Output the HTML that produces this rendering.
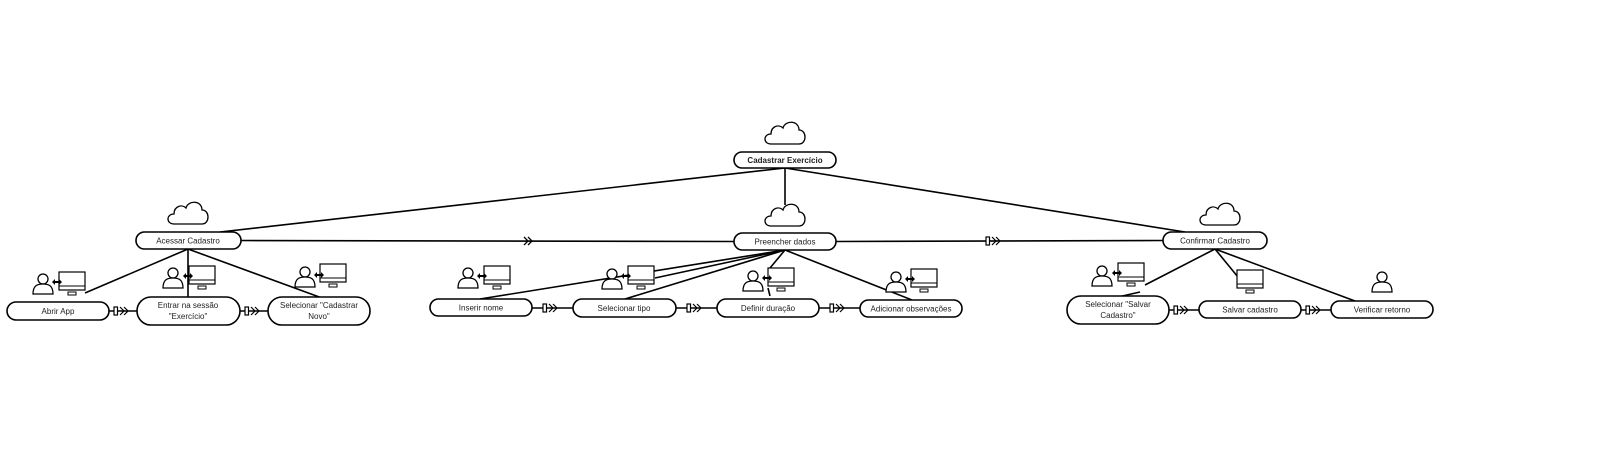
<!DOCTYPE html>
<html><head><meta charset="utf-8"><style>
html,body{margin:0;padding:0;background:#fff;}
svg{display:block;}
text{font-family:"Liberation Sans",sans-serif;font-size:8px;fill:#222;text-anchor:middle;}
</style></head><body>
<svg width="1600" height="454" viewBox="0 0 1600 454" xmlns="http://www.w3.org/2000/svg">
<defs>
<g id="cloud"><path d="M-14,12 C-22,12 -22,2 -14,2 C-14,-6 -6,-8 -2,-4 C0,-12 14,-12 14,-2 C22,-2 22,12 14,12 Z" fill="#fff" stroke="#000" stroke-width="1.3"/></g>
<g id="person"><circle cx="0" cy="-6" r="5" fill="#fff" stroke="#000" stroke-width="1.3"/><path d="M-10,9 C-10,0 -5,-1 0,-1 C5,-1 10,0 10,9 Z" fill="#fff" stroke="#000" stroke-width="1.3"/></g>
<g id="mon"><rect x="-13" y="-10" width="26" height="18" fill="#fff" stroke="#000" stroke-width="1.2"/><line x1="-13" y1="4" x2="13" y2="4" stroke="#000"/><rect x="-4" y="10" width="8" height="3" fill="#fff" stroke="#000"/></g>
<g id="arr"><path d="M-5,0 L-2,-3 L-2,-1 L2,-1 L2,-3 L5,0 L2,3 L2,1 L-2,1 L-2,3 Z" fill="#000"/></g>
<g id="conn"><rect x="0" y="-4" width="3.5" height="8" fill="#fff" stroke="#000" stroke-width="1.2"/><path d="M6,-4 L10,0 L6,4 M10,-4 L14,0 L10,4" fill="none" stroke="#000" stroke-width="1.2"/></g>
</defs>
<g stroke="#000" stroke-width="1.6" fill="none">
<line x1="785" y1="168" x2="220" y2="232"/>
<line x1="785" y1="168" x2="785" y2="205"/>
<line x1="785" y1="168" x2="1185" y2="232"/>
<line x1="241" y1="240.5" x2="734" y2="241.5"/>
<line x1="836" y1="241.5" x2="1163" y2="240.5"/>
<line x1="188" y1="249" x2="85" y2="293"/>
<line x1="188" y1="249" x2="188" y2="297"/>
<line x1="188" y1="249" x2="322" y2="298"/>
<line x1="785" y1="250" x2="480" y2="299"/>
<line x1="785" y1="250" x2="655" y2="278"/>
<line x1="785" y1="250" x2="625" y2="299"/>
<line x1="785" y1="250" x2="770" y2="268"/>
<line x1="785" y1="250" x2="912" y2="300"/>
<line x1="1215" y1="249" x2="1145" y2="285"/>
<line x1="1215" y1="249" x2="1247" y2="288"/>
<line x1="1215" y1="249" x2="1355" y2="301"/>
<line x1="1140" y1="292" x2="1118" y2="297"/>
<line x1="768" y1="288" x2="770" y2="296"/>
<line x1="109" y1="311" x2="137" y2="311"/>
<line x1="240" y1="311" x2="268" y2="311"/>
<line x1="532" y1="308" x2="573" y2="308"/>
<line x1="676" y1="308" x2="717" y2="308"/>
<line x1="819" y1="308" x2="860" y2="308"/>
<line x1="1169" y1="310" x2="1199" y2="310"/>
<line x1="1301" y1="310" x2="1331" y2="310"/>
</g>
<path d="M524,237 L528,241 L524,245 M528,237 L532,241 L528,245" fill="none" stroke="#000" stroke-width="1.3"/>
<use href="#conn" x="986" y="241"/>
<use href="#conn" x="114" y="311"/><use href="#conn" x="245" y="311"/>
<use href="#conn" x="543" y="308"/><use href="#conn" x="687" y="308"/><use href="#conn" x="830" y="308"/>
<use href="#conn" x="1174" y="310"/><use href="#conn" x="1306" y="310"/>
<use href="#cloud" x="785" y="132"/><use href="#cloud" x="188" y="212"/><use href="#cloud" x="785" y="214"/><use href="#cloud" x="1220" y="213"/>
<g fill="#fff" stroke="#000" stroke-width="1.6">
<rect x="734" y="152" width="102" height="16" rx="8"/>
<rect x="136" y="232" width="105" height="17" rx="8.5"/>
<rect x="734" y="233" width="102" height="17" rx="8.5"/>
<rect x="1163" y="232" width="104" height="17" rx="8.5"/>
<rect x="7" y="302" width="102" height="18" rx="9"/>
<rect x="137" y="297" width="103" height="28" rx="14"/>
<rect x="268" y="297" width="102" height="28" rx="14"/>
<rect x="430" y="299" width="102" height="17" rx="8.5"/>
<rect x="573" y="299" width="103" height="18" rx="9"/>
<rect x="717" y="299" width="102" height="18" rx="9"/>
<rect x="860" y="300" width="102" height="17" rx="8.5"/>
<rect x="1067" y="296" width="102" height="28" rx="14"/>
<rect x="1199" y="301" width="102" height="17" rx="8.5"/>
<rect x="1331" y="301" width="102" height="17" rx="8.5"/>
</g>
<g>
<use href="#person" x="43" y="285"/><use href="#mon" x="72" y="282"/><use href="#arr" x="57" y="282"/>
<use href="#person" x="173" y="279"/><use href="#mon" x="202" y="276"/><use href="#arr" x="188" y="276"/>
<use href="#person" x="305" y="278"/><use href="#mon" x="333" y="274"/><use href="#arr" x="319" y="275"/>
<use href="#person" x="468" y="279"/><use href="#mon" x="497" y="276"/><use href="#arr" x="482" y="276"/>
<use href="#person" x="612" y="280"/><use href="#mon" x="641" y="276"/><use href="#arr" x="626" y="276"/>
<use href="#person" x="753" y="282"/><use href="#mon" x="781" y="278"/><use href="#arr" x="767" y="278"/>
<use href="#person" x="896" y="283"/><use href="#mon" x="924" y="279"/><use href="#arr" x="910" y="279"/>
<use href="#person" x="1102" y="277"/><use href="#mon" x="1131" y="273"/><use href="#arr" x="1117" y="273"/>
<use href="#mon" x="1250" y="280"/>
<use href="#person" x="1382" y="283"/>
</g>
<text x="785" y="163" style="font-weight:bold">Cadastrar Exercício</text>
<text x="188" y="243.5">Acessar Cadastro</text>
<text x="785" y="244.5">Preencher dados</text>
<text x="1215" y="243.5">Confirmar Cadastro</text>
<text x="58" y="314">Abrir App</text>
<text x="188" y="308">Entrar na sessão</text><text x="188" y="319">"Exercício"</text>
<text x="319" y="308">Selecionar "Cadastrar</text><text x="319" y="319">Novo"</text>
<text x="481" y="310.5">Inserir nome</text>
<text x="624" y="311">Selecionar tipo</text>
<text x="768" y="311">Definir duração</text>
<text x="911" y="311.5">Adicionar observações</text>
<text x="1118" y="307">Selecionar "Salvar</text><text x="1118" y="318">Cadastro"</text>
<text x="1250" y="312.5">Salvar cadastro</text>
<text x="1382" y="312.5">Verificar retorno</text>
</svg>
</body></html>
